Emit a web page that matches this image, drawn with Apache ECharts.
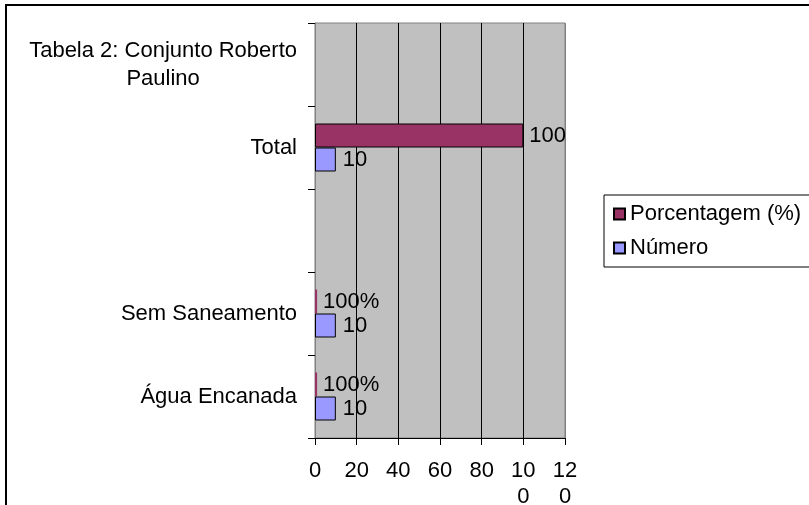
<!DOCTYPE html>
<html>
<head>
<meta charset="utf-8">
<script src="https://cdn.jsdelivr.net/npm/echarts@6/dist/echarts.min.js"></script>
<style>html,body{margin:0;padding:0;background:#fff}#c{width:809px;height:505px}</style>
</head>
<body>
<div id="c"></div>
<script>
var categories = ['Água Encanada', 'Sem Saneamento', '', 'Total', 'Tabela 2: Conjunto Roberto Paulino'];
var porcentagem = [1, 1, null, 100, null];
var porcentagemLabels = ['100%', '100%', '', '100', ''];
var numero = [10, 10, null, 10, null];
var numeroLabels = ['10', '10', '', '10', ''];
var xTickValues = [0, 20, 40, 60, 80, 100, 120];
var xTickLabels = ['0', '20', '40', '60', '80', '10\n0', '12\n0'];
var seriesNames = ['Porcentagem (%)', 'Número'];

var FONT = '"Liberation Sans", Arial, sans-serif';
var FS = 22;
var chart = echarts.init(document.getElementById('c'));

function toData(arr) {
  return arr.map(function (v) {
    if (v === null) return '-';
    if (v <= 1) return { value: v, itemStyle: { borderWidth: 0 } };
    return v;
  });
}

chart.setOption({
  animation: false,
  textStyle: { fontFamily: FONT, color: '#000' },
  graphic: [{
    type: 'rect', z: 100, silent: true,
    shape: { x: 6, y: 5, width: 900, height: 700 },
    style: { fill: 'none', stroke: '#000', lineWidth: 2 }
  }],
  grid: {
    left: 315, right: 244, top: 23, bottom: 67, containLabel: false,
    outerBoundsMode: 'none',
    show: true, backgroundColor: '#C0C0C0', borderColor: '#808080', borderWidth: 1
  },
  legend: {
    orient: 'vertical', left: 604, top: 195,
    data: seriesNames,
    itemWidth: 11, itemHeight: 11, itemGap: 10,
    padding: [7, 20, 7, 9],
    borderColor: '#000', borderWidth: 1, backgroundColor: '#fff',
    icon: 'rect',
    textStyle: { fontFamily: FONT, fontSize: FS, color: '#000', lineHeight: 24 }
  },
  xAxis: {
    type: 'value', min: 0, max: 120, interval: 20,
    axisLine: { show: true, lineStyle: { color: '#000', width: 1 } },
    axisTick: { show: true, length: 7, lineStyle: { color: '#000' } },
    axisLabel: {
      fontFamily: FONT, fontSize: FS, color: '#000', margin: 20, lineHeight: 26,
      formatter: function (v) { var i = xTickValues.indexOf(v); return i >= 0 ? xTickLabels[i] : ''; }
    },
    splitLine: { show: true, lineStyle: { color: ['#808080', '#000', '#000', '#000', '#000', '#000', '#808080'], width: 1 } }
  },
  yAxis: {
    type: 'category', data: categories,
    axisLine: { show: true, lineStyle: { color: '#808080', width: 1 } },
    axisTick: { show: true, length: 7, lineStyle: { color: '#000' } },
    axisLabel: {
      fontFamily: FONT, fontSize: FS, color: '#000', margin: 18,
      formatter: function (v) {
        if (v.indexOf('Tabela') === 0) return '{c|Tabela 2: Conjunto Roberto}\n{c|Paulino}';
        return v;
      },
      rich: { c: { align: 'center', fontFamily: FONT, fontSize: FS, color: '#000', lineHeight: 28 } }
    },
    splitLine: { show: false }
  },
  series: [{
    name: seriesNames[0], type: 'bar', data: toData(porcentagem),
    barWidth: 24, barGap: '0%',
    itemStyle: { color: '#993366', borderColor: '#000', borderWidth: 1 },
    label: {
      show: true, position: 'right', distance: 6,
      fontFamily: FONT, fontSize: FS, color: '#000',
      formatter: function (p) { return porcentagemLabels[p.dataIndex]; }
    }
  }, {
    name: seriesNames[1], type: 'bar', data: toData(numero),
    barWidth: 24, barGap: '0%',
    itemStyle: { color: '#9999FF', borderColor: '#000', borderWidth: 1 },
    label: {
      show: true, position: 'right', distance: 7,
      fontFamily: FONT, fontSize: FS, color: '#000',
      formatter: function (p) { return numeroLabels[p.dataIndex]; }
    }
  }]
});
</script>
</body>
</html>
